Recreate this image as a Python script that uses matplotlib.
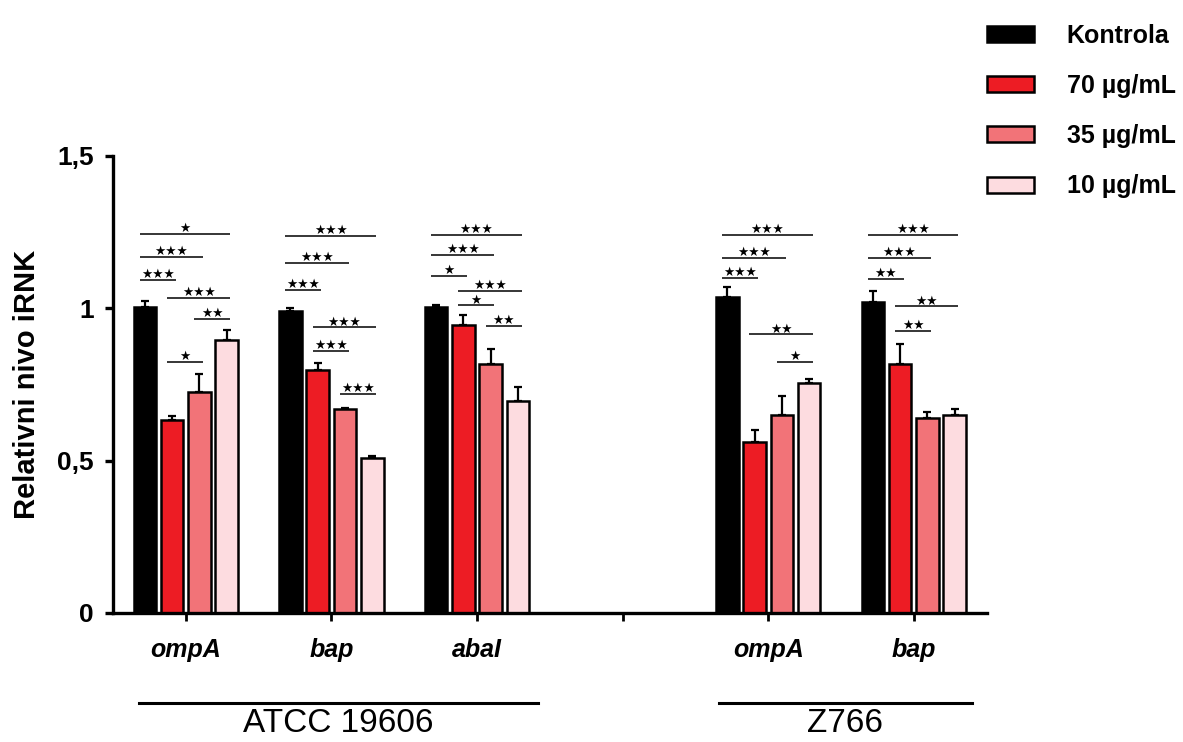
import numpy as np
import matplotlib
matplotlib.use("Agg")
import matplotlib.pyplot as plt

plt.rcParams['font.family'] = ['Liberation Sans', 'DejaVu Sans']

# ---------------------------------------------------------------------------
# data
# ---------------------------------------------------------------------------
genes = ['ompA', 'bap', 'abaI', 'ompA', 'bap']
gene_pos = [0, 1, 2, 4, 5]
series_names = ['Kontrola', '70 µg/mL', '35 µg/mL', '10 µg/mL']
series_colors = ['#000000', '#ED1C24', '#F27378', '#FDDCE0']

kontrola = [1.005, 0.992, 1.004, 1.037, 1.021]
ug70 = [0.633, 0.798, 0.946, 0.560, 0.816]
ug35 = [0.726, 0.668, 0.817, 0.650, 0.639]
ug10 = [0.897, 0.507, 0.694, 0.756, 0.649]

err_kontrola = [0.017, 0.008, 0.007, 0.033, 0.036]
err_70 = [0.014, 0.023, 0.033, 0.039, 0.068]
err_35 = [0.058, 0.003, 0.048, 0.062, 0.020]
err_10 = [0.030, 0.008, 0.046, 0.013, 0.021]

# (gene index, bar from, bar to, line level, stars)
significance = [
    (0, 0, 3, 1.243, 1), (0, 0, 2, 1.168, 3), (0, 0, 1, 1.092, 3),
    (0, 1, 3, 1.034, 3), (0, 2, 3, 0.965, 2), (0, 1, 2, 0.823, 1),
    (1, 0, 3, 1.237, 3), (1, 0, 2, 1.148, 3), (1, 0, 1, 1.059, 3),
    (1, 1, 3, 0.937, 3), (1, 1, 2, 0.861, 3), (1, 2, 3, 0.718, 3),
    (2, 0, 3, 1.240, 3), (2, 0, 2, 1.176, 3), (2, 0, 1, 1.106, 1),
    (2, 1, 3, 1.057, 3), (2, 1, 2, 1.009, 1), (2, 2, 3, 0.943, 2),
    (3, 0, 3, 1.240, 3), (3, 0, 2, 1.166, 3), (3, 0, 1, 1.099, 3),
    (3, 1, 3, 0.914, 2), (3, 2, 3, 0.825, 1),
    (4, 0, 3, 1.240, 3), (4, 0, 2, 1.166, 3), (4, 0, 1, 1.096, 2),
    (4, 1, 3, 1.006, 2), (4, 1, 2, 0.926, 2),
]

strains = ['ATCC 19606', 'Z766']
strain_spans = [(-0.32, 2.42), (3.66, 5.40)]

# ---------------------------------------------------------------------------
fig = plt.figure(figsize=(11.83, 7.42), dpi=100)
ax = fig.add_axes([0.0955, 0.174, 0.7385, 0.616])

values = [kontrola, ug70, ug35, ug10]
errors = [err_kontrola, err_70, err_35, err_10]
step = 0.1875
width = 0.155
x = np.array(gene_pos, dtype=float)

for k in range(4):
    xs = x + (k - 1.5) * step
    ax.bar(xs, values[k], width=width, color=series_colors[k],
           edgecolor='black', linewidth=1.8, label=series_names[k], zorder=2)
    ax.errorbar(xs, values[k], yerr=[np.zeros(len(xs)), errors[k]],
                fmt='none', ecolor='black', elinewidth=1.6, capsize=3,
                capthick=1.6, zorder=1)

# significance bars
for g, i, j, lvl, n in significance:
    x0 = x[g] + (i - 1.5) * step - 0.035
    x1 = x[g] + (j - 1.5) * step + 0.025
    ax.plot([x0, x1], [lvl, lvl], color='black', lw=1.1, solid_capstyle='butt')
    ax.text((x0 + x1) / 2, lvl + 0.006, '★' * n, ha='center', va='baseline',
            fontsize=9, family='DejaVu Sans', color='black')

# axes styling
ax.set_xlim(-0.5, 5.5)
ax.set_ylim(0, 1.5)
for side in ['top', 'right']:
    ax.spines[side].set_visible(False)
for side in ['left', 'bottom']:
    ax.spines[side].set_linewidth(2.4)

ax.set_yticks([0, 0.5, 1, 1.5])
ax.set_yticklabels(['0', '0,5', '1', '1,5'], fontsize=19, fontweight='bold')
ax.tick_params(axis='y', length=6, width=2.4, pad=8)

ax.set_xticks([0, 1, 2, 3, 4, 5])
ax.set_xticklabels(genes[:3] + [''] + genes[3:], fontsize=18,
                   fontweight='bold', style='italic')
ax.tick_params(axis='x', length=6, width=2.0, pad=12)

ax.set_ylabel('Relativni nivo iRNK', fontsize=21, fontweight='bold')
ax.yaxis.set_label_coords(-0.082, 0.5)

# strain brackets under the axis
for name, (a, b) in zip(strains, strain_spans):
    ax.plot([a, b], [-0.197, -0.197], color='black', lw=2.2, clip_on=False,
            transform=ax.get_xaxis_transform())
    ax.text((a + b) / 2, -0.243, name, ha='center', va='center', fontsize=24,
            transform=ax.get_xaxis_transform())

leg = ax.legend(loc='upper left', bbox_to_anchor=(0.834, 0.968),
                bbox_transform=fig.transFigure, frameon=False,
                prop={'size': 18, 'weight': 'bold'}, handlelength=1.9,
                handleheight=0.6, handletextpad=1.3, labelspacing=1.05,
                borderpad=0, borderaxespad=0)

fig.savefig('out.png', dpi=100)
